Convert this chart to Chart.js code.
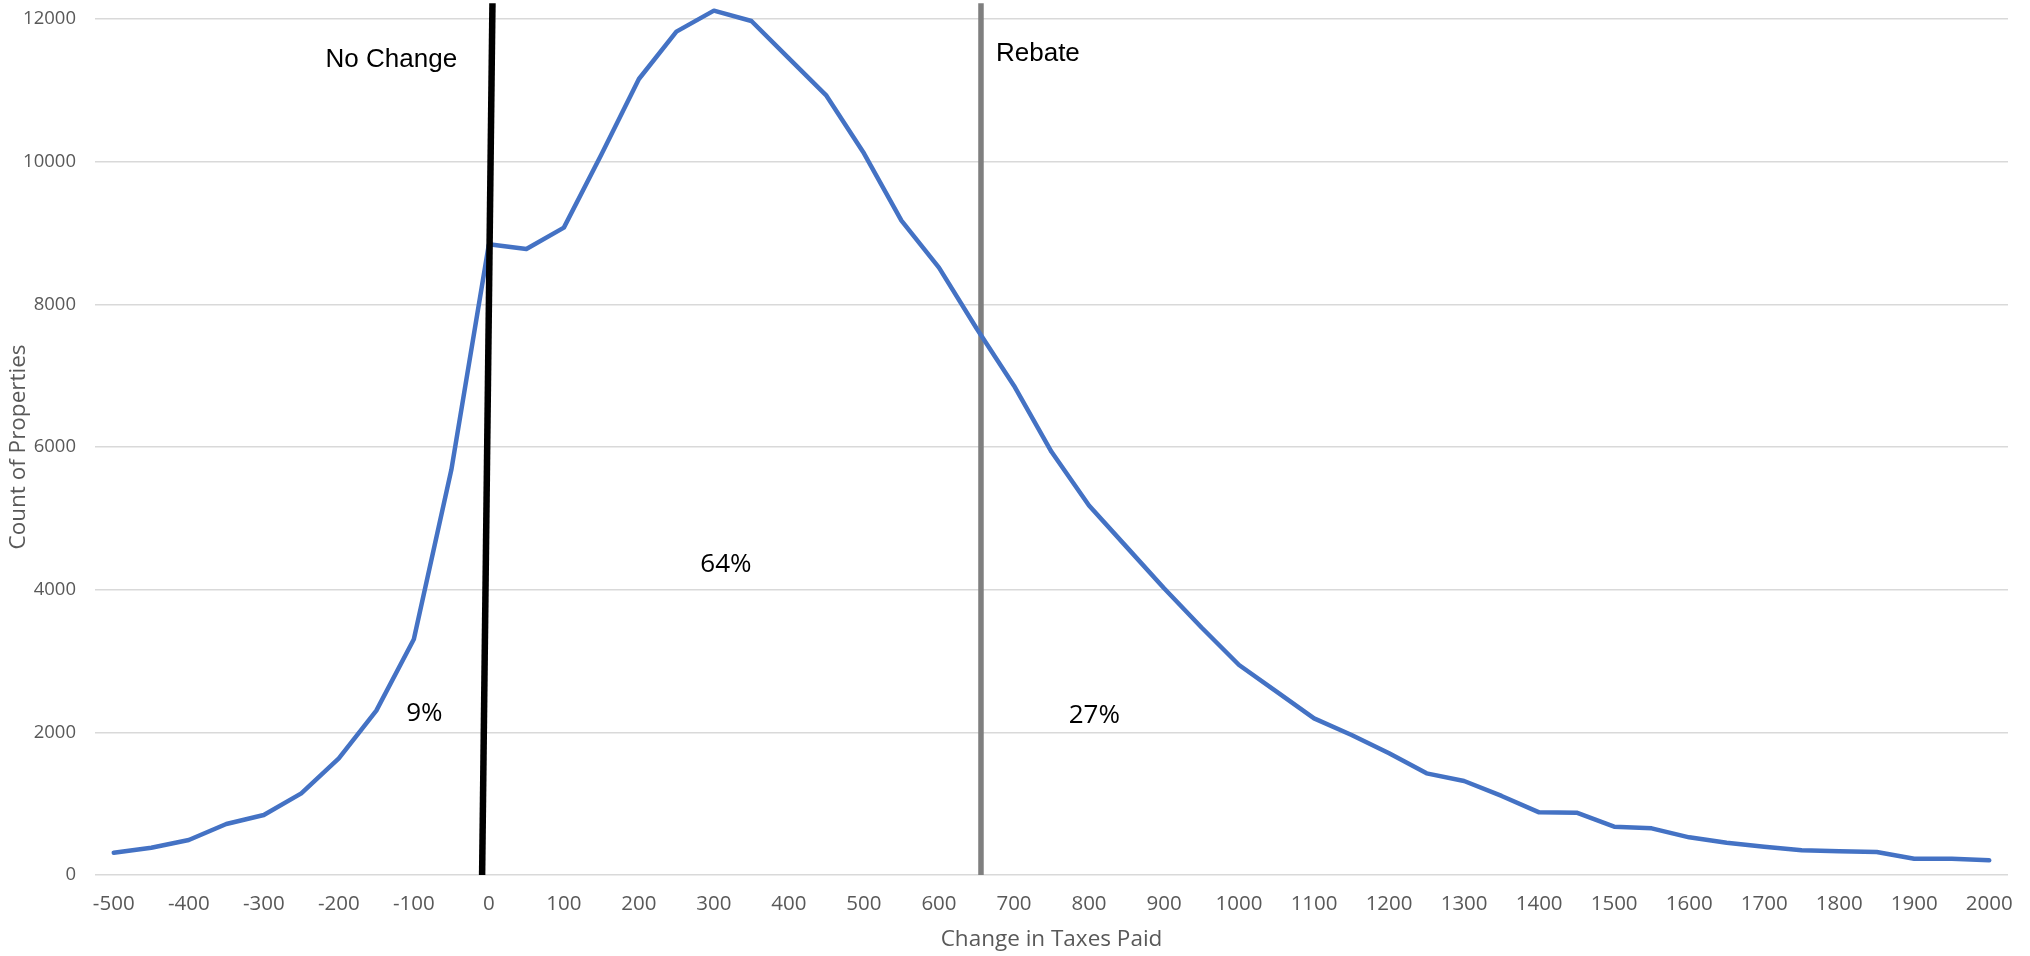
<!DOCTYPE html>
<html>
<head>
<meta charset="utf-8">
<script src="https://cdn.jsdelivr.net/npm/chart.js@4"></script>
<style>
html,body{margin:0;padding:0;background:#ffffff;}
#wrap{width:2030px;height:956px;position:relative;}
</style>
</head>
<body>
<div id="wrap"><canvas id="c"></canvas></div>
<script>
// ---- data ----
const changeInTaxes = [-500,-450,-400,-350,-300,-250,-200,-150,-100,-50,
  0,50,100,150,200,250,300,350,400,450,500,550,600,650,700,750,800,850,900,950,
  1000,1050,1100,1150,1200,1250,1300,1350,1400,1450,1500,1550,1600,1650,1700,1750,
  1800,1850,1900,1950,2000];
const propertyCounts = [313,383,491,715,841,1145,1636,2304,3304,5680,
  8842,8776,9075,10100,11159,11823,12117,11972,11449,10925,10117,9173,8514,7664,6860,5933,5180,4600,4020,3470,
  2944,2570,2196,1963,1706,1425,1318,1108,878,874,678,654,528,453,397,346,
  332,322,229,229,206];
const xTickLabels = [-500,-400,-300,-200,-100,0,100,200,300,400,500,600,700,800,900,1000,
  1100,1200,1300,1400,1500,1600,1700,1800,1900,2000];
const yTickLabels = [0,2000,4000,6000,8000,10000,12000];
const xAxisTitle = 'Change in Taxes Paid';
const yAxisTitle = 'Count of Properties';

// marker lines and labels (in data units)
const markerLines = [
  {name:'No Change', from:[-9,0], to:[4.8,12220], color:'#000000', width:6.5, front:true},
  {name:'Rebate', from:[656,0], to:[656,12220], color:'#7f7f7f', width:5.5, front:false}
];
const markerTexts = [
  {text:'No Change', at:[-130,11332], align:'center', font:'26px "Liberation Sans", Arial, sans-serif'},
  {text:'Rebate', at:[676,11416], align:'left', font:'26px "Liberation Sans", Arial, sans-serif'},
  {text:'9%', at:[-86,2163], align:'center', font:'26px "Open Sans", sans-serif'},
  {text:'64%', at:[316,4252], align:'center', font:'26px "Open Sans", sans-serif'},
  {text:'27%', at:[807,2135], align:'center', font:'26px "Open Sans", sans-serif'}
];

const points = changeInTaxes.map((x,i)=>({x:x, y:propertyCounts[i]}));

function drawLines(chart, front){
  const ctx = chart.ctx, xs = chart.scales.x, ys = chart.scales.y;
  ctx.save();
  markerLines.filter(l=>l.front===front).forEach(l=>{
    ctx.beginPath();
    ctx.strokeStyle = l.color;
    ctx.lineWidth = l.width;
    ctx.lineCap = 'butt';
    ctx.moveTo(xs.getPixelForValue(l.from[0]), ys.getPixelForValue(l.from[1]));
    ctx.lineTo(xs.getPixelForValue(l.to[0]), ys.getPixelForValue(l.to[1]));
    ctx.stroke();
  });
  ctx.restore();
}

const markerPlugin = {
  id:'markers',
  beforeDatasetsDraw(chart){ drawLines(chart,false); },
  afterDatasetsDraw(chart){
    drawLines(chart,true);
    const ctx = chart.ctx, xs = chart.scales.x, ys = chart.scales.y;
    ctx.save();
    ctx.fillStyle = '#000000';
    ctx.textBaseline = 'alphabetic';
    markerTexts.forEach(t=>{
      ctx.font = t.font;
      ctx.textAlign = t.align;
      ctx.fillText(t.text, xs.getPixelForValue(t.at[0]), ys.getPixelForValue(t.at[1]));
    });
    ctx.restore();
  }
};

new Chart(document.getElementById('c'), {
  type:'line',
  data:{
    datasets:[{
      label:yAxisTitle,
      data:points,
      borderColor:'#4472C4',
      backgroundColor:'#4472C4',
      borderWidth:4.5,
      pointRadius:0,
      tension:0,
      fill:false,
      clip:false,
      borderJoinStyle:'round',
      borderCapStyle:'round'
    }]
  },
  options:{
    responsive:true,
    maintainAspectRatio:false,
    animation:false,
    layout:{padding:{left:0,right:22,top:19,bottom:0}},
    plugins:{legend:{display:false}, tooltip:{enabled:false}},
    scales:{
      x:{
        type:'linear',
        min:-525, max:2025,
        afterBuildTicks(axis){ axis.ticks = xTickLabels.map(v=>({value:v})); },
        afterFit(axis){ axis.height = 81; axis.paddingLeft = 0; axis.paddingRight = 0; },
        grid:{display:false, drawTicks:false},
        border:{display:false},
        ticks:{autoSkip:false, maxRotation:0, padding:17, color:'#595959',
          callback:(v)=>String(v),
          font:{family:'"Open Sans", sans-serif', size:20.5}},
        title:{display:true, text:xAxisTitle, color:'#595959', padding:{top:0,bottom:3},
          font:{family:'"Open Sans", sans-serif', size:22.5}}
      },
      y:{
        min:0, max:12000,
        afterBuildTicks(axis){ axis.ticks = yTickLabels.map(v=>({value:v})); },
        afterFit(axis){ axis.width = 95; axis.paddingTop = 0; axis.paddingBottom = 0; },
        grid:{color:'#d9d9d9', lineWidth:1.5, drawTicks:false},
        border:{display:false},
        ticks:{padding:19, color:'#595959', callback:(v)=>String(v),
          font:{family:'"Open Sans", sans-serif', size:18.5}},
        title:{display:true, text:yAxisTitle, color:'#595959', padding:{top:5,bottom:0},
          font:{family:'"Open Sans", sans-serif', size:22.5}}
      }
    }
  },
  plugins:[markerPlugin]
});
</script>
</body>
</html>
